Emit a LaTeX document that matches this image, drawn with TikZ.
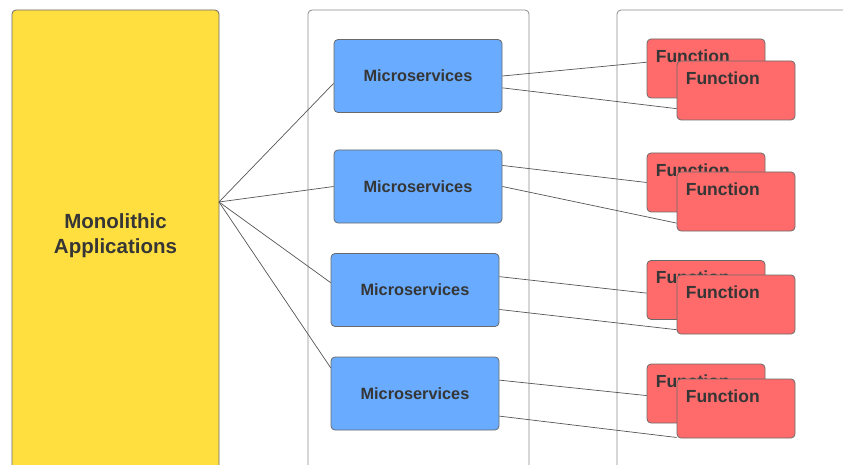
\documentclass[tikz,border=0pt]{standalone}
\usepackage{fontspec}
\setmainfont{Liberation Sans}
\usetikzlibrary{positioning}

\definecolor{monoyellow}{HTML}{FFDF3F}
\definecolor{msblue}{HTML}{68ABFF}
\definecolor{fnred}{HTML}{FF6B6B}
\definecolor{textgray}{HTML}{363636}
\definecolor{edgegray}{HTML}{6A6A6A}
\definecolor{panelgray}{HTML}{8C8C8C}
\definecolor{linkgray}{HTML}{555555}

\begin{document}
\begin{tikzpicture}[
  x=1pt, y=-1pt,
  panel/.style={draw=panelgray, rounded corners=4pt, line width=0.8pt},
  monobox/.style={draw=edgegray, fill=monoyellow, rounded corners=4pt, line width=0.8pt, minimum width=207pt, minimum height=460pt},
  monolabel/.style={font=\bfseries\fontsize{20.5}{25}\selectfont, text=textgray, align=center},
  msbox/.style={draw=edgegray, fill=msblue, rounded corners=4pt, line width=0.8pt, minimum width=168pt, minimum height=73pt, font=\bfseries\fontsize{16.3}{19}\selectfont, text=textgray},
  fnbox/.style={draw=edgegray, fill=fnred, rounded corners=4pt, line width=0.8pt, minimum width=118pt, minimum height=59pt},
  fnlabel/.style={font=\bfseries\fontsize{17.5}{20}\selectfont, text=textgray, anchor=north west, inner sep=0pt},
  link/.style={draw=linkgray, line width=0.7pt}
]
\useasboundingbox (0,0) rectangle (843,465);
\clip (0,0) rectangle (843,465);

% panels
\draw[panel] (308,480) -- (308,10) -- (529,10) -- (529,480);
\draw[panel] (617,480) -- (617,10) -- (860,10);

% monolith
\node[monobox] (mono) at (115.5,240) {};
\node[monolabel] (monotext) at (115.5,235.5) {Monolithic\\Applications};
\coordinate (hub) at (219,202);

% microservices
\node[msbox] (ms1) at (418,76) {Microservices};
\node[msbox] (ms2) at (418,186.5) {Microservices};
\node[msbox] (ms3) at (415,290) {Microservices};
\node[msbox] (ms4) at (415,393.5) {Microservices};

% back functions
\node[fnbox] (fb1) at (706,68.5) {};
\node[fnbox] (fb2) at (706,182.5) {};
\node[fnbox] (fb3) at (706,290) {};
\node[fnbox] (fb4) at (706,393.5) {};
\node[fnlabel] (fbt1) at ([xshift=9pt,yshift=-11pt]fb1.north west) {Function};
\node[fnlabel] (fbt2) at ([xshift=9pt,yshift=-11pt]fb2.north west) {Function};
\node[fnlabel] (fbt3) at ([xshift=9pt,yshift=-11pt]fb3.north west) {Function};
\node[fnlabel] (fbt4) at ([xshift=9pt,yshift=-11pt]fb4.north west) {Function};

% front functions
\node[fnbox] (ff1) at (736,90.5) {};
\node[fnbox] (ff2) at (736,201.5) {};
\node[fnbox] (ff3) at (736,304.5) {};
\node[fnbox] (ff4) at (736,408.5) {};
\node[fnlabel] (fft1) at ([xshift=9pt,yshift=-11pt]ff1.north west) {Function};
\node[fnlabel] (fft2) at ([xshift=9pt,yshift=-11pt]ff2.north west) {Function};
\node[fnlabel] (fft3) at ([xshift=9pt,yshift=-11pt]ff3.north west) {Function};
\node[fnlabel] (fft4) at ([xshift=9pt,yshift=-11pt]ff4.north west) {Function};

% links
\draw[link] (hub) -- (ms1.185);
\draw[link] (hub) -- (ms2.west);
\draw[link] (hub) -- (ms3.175);
\draw[link] (hub) -- (ms4.163);

\draw[link] (ms1.east) -- (fb1.174);
\draw[link] (ms1.352) -- (ff1.197);
\draw[link] (ms2.14) -- (fb2.west);
\draw[link] (ms2.east) -- (ff2.200);
\draw[link] (ms3.9) -- (fb3.183);
\draw[link] (ms3.347) -- (ff3.203);
\draw[link] (ms4.9) -- (fb4.182);
\draw[link] (ms4.345) -- (ff4.206);
\end{tikzpicture}
\end{document}
